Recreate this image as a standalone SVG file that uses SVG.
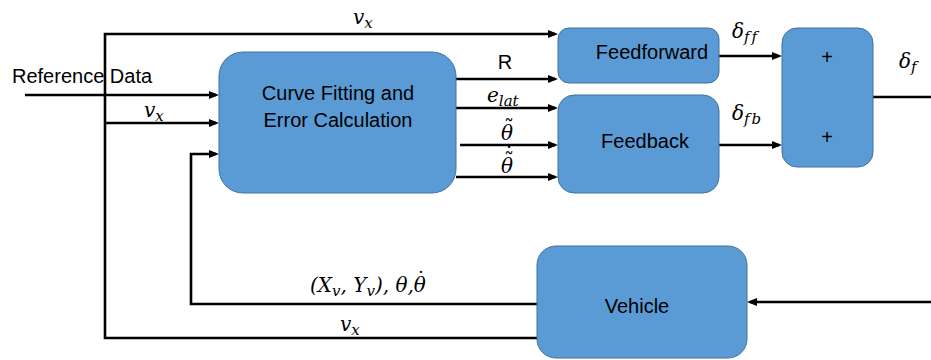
<svg xmlns="http://www.w3.org/2000/svg" width="931" height="360" viewBox="0 0 931 360">
<style>
.box{fill:#5B9BD5;stroke:#41719C;stroke-width:1}
.lbl{font-family:"Liberation Sans",Arial,sans-serif;font-size:20px;fill:#000}
.m{font-family:"DejaVu Serif","Liberation Serif",serif;font-style:italic;font-size:20px;fill:#000}
.a{font-style:normal}
.s{font-size:15px}
.sp{letter-spacing:2px}
.w{fill:none;stroke:#000;stroke-width:2.6}
.arr{marker-end:url(#ah)}
</style>
<defs>
<marker id="ah" viewBox="0 0 10 8" refX="7" refY="4" markerWidth="10" markerHeight="8" markerUnits="userSpaceOnUse" orient="auto">
<path d="M0,0 L10,4 L0,8 z" fill="#000"/>
</marker>
</defs>
<rect width="931" height="360" fill="#fff"/>

<g id="connectors">
<path class="w arr" d="M537,338 H105 V34 H555"/>
<path class="w arr" d="M105,123 H216"/>
<path class="w arr" d="M25,95 H216"/>
<path class="w arr" d="M537,304 H191 V154 H216"/>
<path class="w arr" d="M456,79 H555"/>
<path class="w arr" d="M456,108 H555"/>
<path class="w arr" d="M460,145 H555"/>
<path class="w arr" d="M456,177 H555"/>
<path class="w arr" d="M719,56 H779"/>
<path class="w arr" d="M719,145 H779"/>
<path class="w" d="M873,97 H931"/>
<path class="w arr" d="M931,302 H750"/>
</g>

<g id="curve-fitting">
<rect class="box" x="219" y="52" width="237" height="141" rx="24"/>
<text class="lbl" x="338" y="100" text-anchor="middle">Curve Fitting and</text>
<text class="lbl" x="338" y="127" text-anchor="middle">Error Calculation</text>
</g>
<g id="feedforward">
<rect class="box" x="558" y="28" width="161" height="55" rx="11"/>
<text class="lbl" x="652" y="59" text-anchor="middle">Feedforward</text>
</g>
<g id="feedback">
<rect class="box" x="558" y="95" width="161" height="98" rx="16"/>
<text class="lbl" x="645" y="148" text-anchor="middle">Feedback</text>
</g>
<g id="sum">
<rect class="box" x="782" y="28" width="91" height="139" rx="15"/>
<text class="lbl" x="827" y="64" text-anchor="middle">+</text>
<text class="lbl" x="827" y="144" text-anchor="middle">+</text>
</g>
<g id="vehicle">
<rect class="box" x="537" y="246" width="210" height="112" rx="19"/>
<text class="lbl" x="637" y="313" text-anchor="middle">Vehicle</text>
</g>

<g id="labels">
<text class="lbl" x="12" y="83">Reference Data</text>
<text class="m" x="353" y="24">v<tspan class="s" dy="4">x</tspan></text>
<text class="m" x="144" y="117">v<tspan class="s" dy="4">x</tspan></text>
<text class="lbl" x="505" y="69" text-anchor="middle">R</text>
<text class="m" x="487" y="102">e<tspan class="s" dy="4">lat</tspan></text>
<text class="m" x="507" y="140" text-anchor="middle">θ<tspan class="a" x="509" y="134">˜</tspan></text>
<text class="m" x="507" y="173" text-anchor="middle">θ<tspan class="a" x="509" y="167">˜</tspan><tspan class="a" x="509" y="161">˙</tspan></text>
<text class="m" x="732" y="38">δ<tspan class="s sp" dy="4">ff</tspan></text>
<text class="m" x="732" y="120">δ<tspan class="s sp" dy="4">fb</tspan></text>
<text class="m" x="899" y="68">δ<tspan class="s" dy="4">f</tspan></text>
<text class="m" x="310" y="292">(X<tspan class="s" dy="4">v</tspan><tspan dy="-4">, Y</tspan><tspan class="s" dy="4">v</tspan><tspan dy="-4">), θ,θ</tspan><tspan class="a" x="421" y="286" text-anchor="middle">˙</tspan></text>
<text class="m" x="340" y="331">v<tspan class="s" dy="4">x</tspan></text>
</g>
</svg>
